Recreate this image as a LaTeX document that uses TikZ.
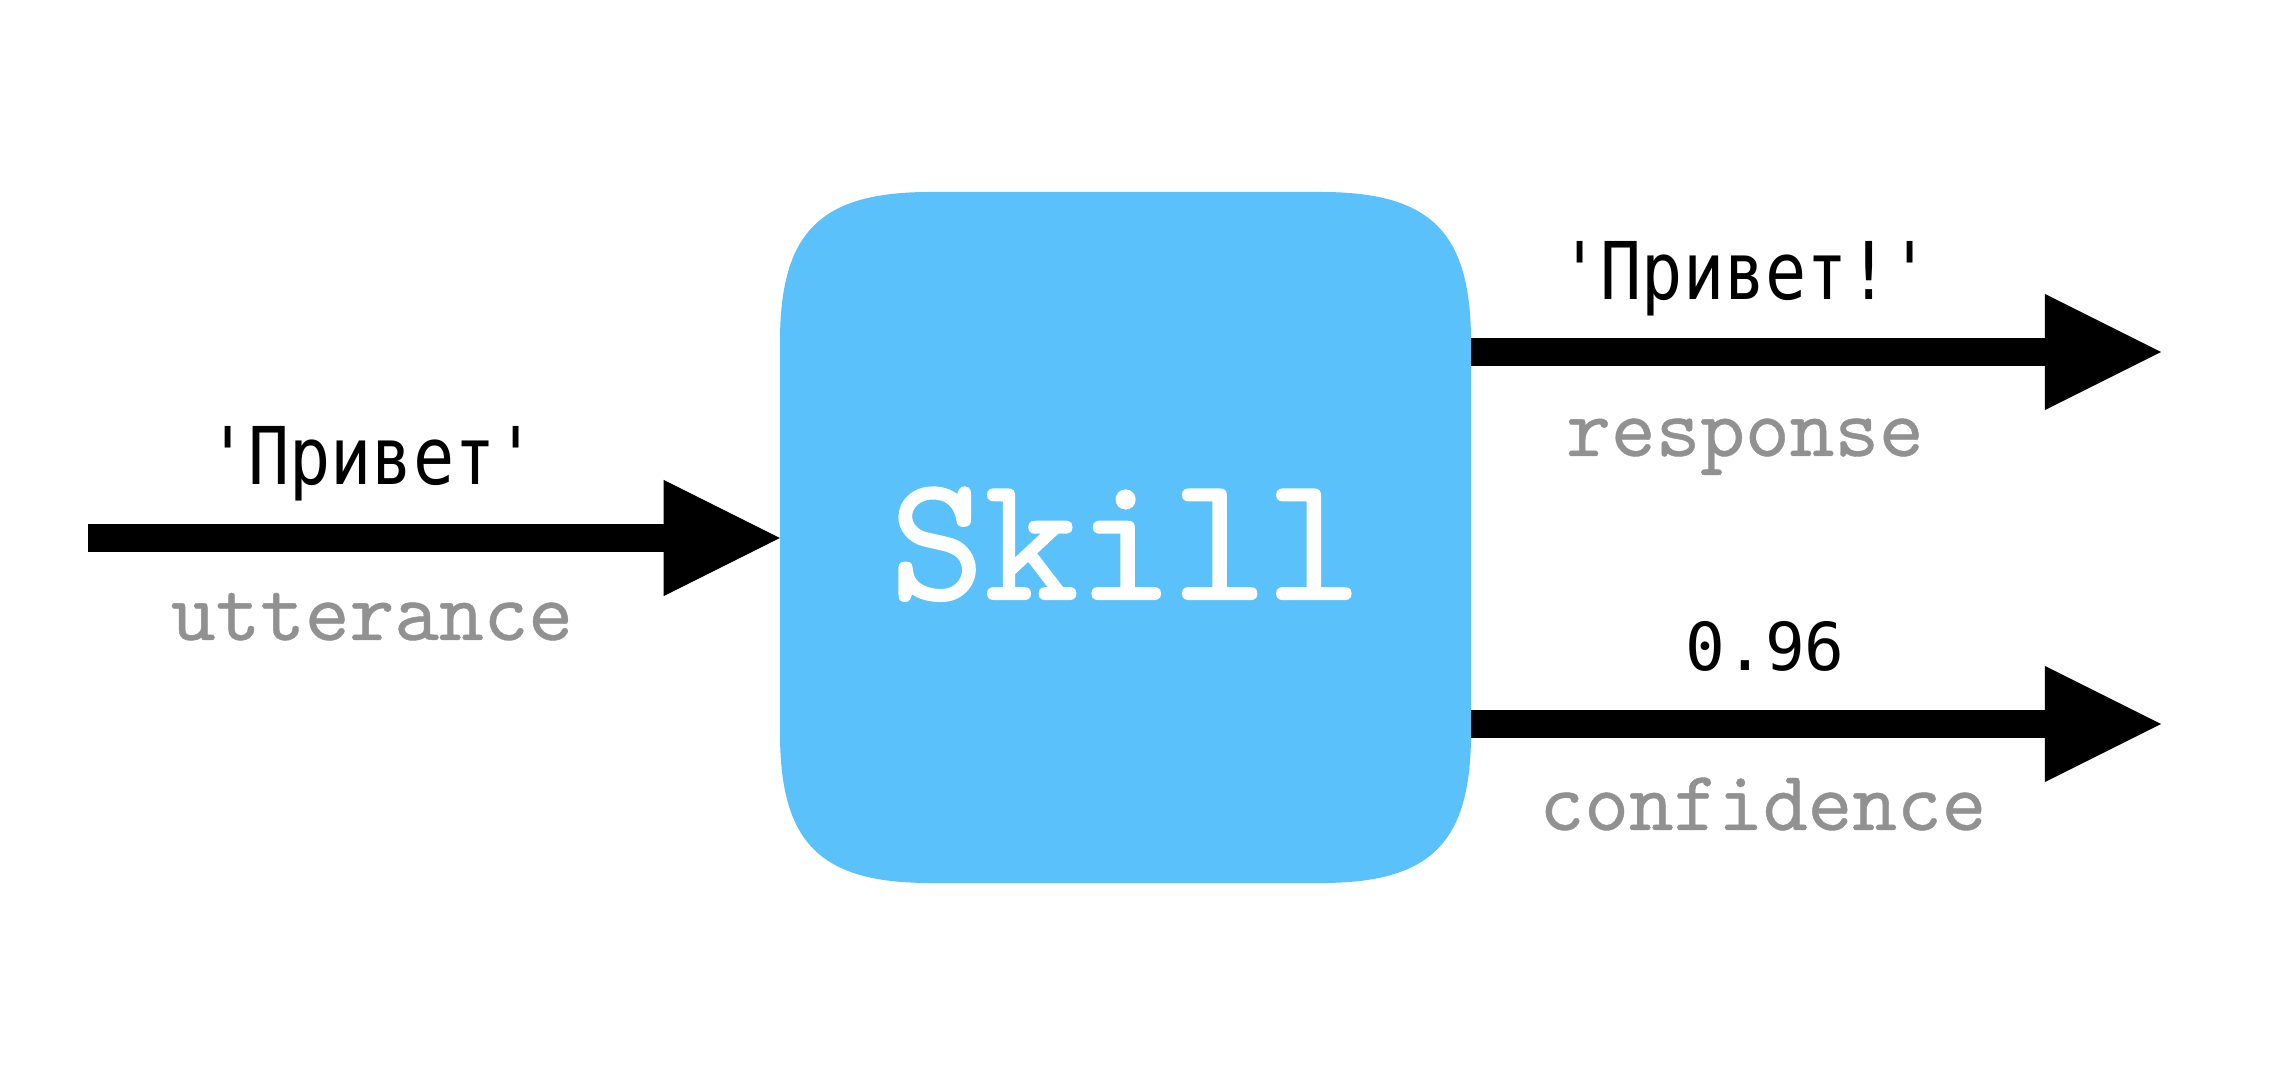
\documentclass[tikz,border=0pt]{standalone}
\usepackage{fontspec}
\usetikzlibrary{arrows.meta}
\newfontfamily\valfont[FakeStretch=0.86]{DejaVu Sans Mono}
\newfontfamily\numfont{DejaVu Sans Mono}
\newfontfamily\skillfont{lmmono10-regular.otf}[FakeBold=1.2]
\newfontfamily\grayfont{lmmono10-regular.otf}[FakeBold=0.5]
\definecolor{skillblue}{RGB}{91,193,251}
\definecolor{labelgray}{RGB}{145,145,145}
\tikzset{
  flow/.style={line width=0.28cm, draw=black,
    -{Triangle[length=1.16cm,width=1.16cm,line width=0pt]}},
  valuelabel/.style={anchor=base, inner sep=0pt, text=black,
    font={\valfont\fontsize{22.65pt}{26pt}\selectfont}},
  numlabel/.style={anchor=base, inner sep=0pt, text=black,
    font={\numfont\fontsize{18.8pt}{22pt}\selectfont}},
  namelabel/.style={anchor=base, inner sep=0pt, text=labelgray,
    font={\grayfont\fontsize{24.2pt}{28pt}\selectfont}},
  skillbox/.style={minimum width=6.91cm, minimum height=6.91cm,
    inner sep=0pt, outer sep=0pt, text=white, text height=1.23cm, text depth=0pt,
    font={\skillfont\fontsize{51pt}{56pt}\selectfont}}
}
\begin{document}
\begin{tikzpicture}[x=0.01cm,y=-0.01cm]
\useasboundingbox (0,0) rectangle (2294,1086);
% squircle body
\fill[skillblue] (780,342) .. controls (780,232) and (820,192) .. (930,192)
  -- (1321,192) .. controls (1431,192) and (1471,232) .. (1471,342)
  -- (1471,733) .. controls (1471,843) and (1431,883) .. (1321,883)
  -- (930,883) .. controls (820,883) and (780,843) .. (780,733) -- cycle;
\node[skillbox] (skill) at (1125.5,537.5) {Skill};

\coordinate (inStart) at (88,538);
\coordinate (respEnd) at (2161,352);
\coordinate (confEnd) at (2161,724);

\draw[flow] (inStart) -- (skill.west |- inStart);
\draw[flow] (skill.east |- respEnd) -- (respEnd);
\draw[flow] (skill.east |- confEnd) -- (confEnd);

\node[valuelabel] (inval) at (372,485) {'Привет'};
\node[namelabel] (inname) at (372,640) {utterance};
\node[valuelabel] (respval) at (1745,300) {'Привет!'};
\node[namelabel] (respname) at (1745,456) {response};
\node[numlabel] (confval) at (1765,671) {0.96};
\node[namelabel] (confname) at (1763,830) {confidence};
\end{tikzpicture}
\end{document}
